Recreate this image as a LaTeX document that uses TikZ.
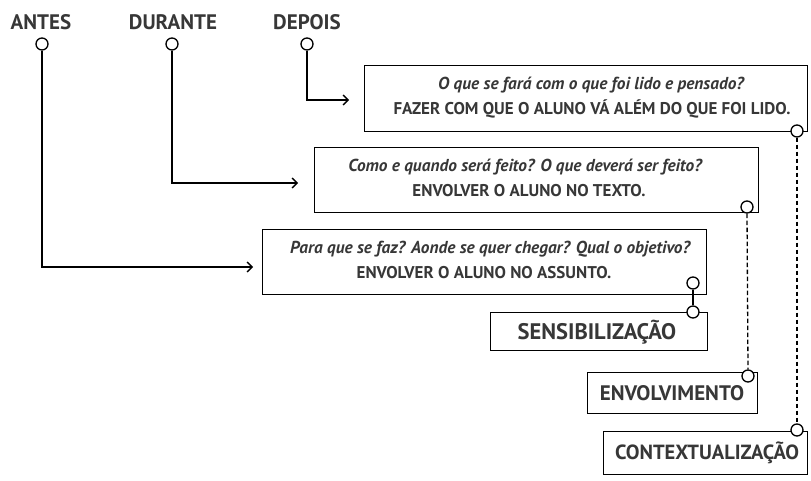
\documentclass[tikz,border=0pt]{standalone}
\usepackage{fontspec}
\setmainfont{PT Sans}
\usetikzlibrary{arrows.meta}
\definecolor{ink}{RGB}{55,55,55}
\begin{document}
\begin{tikzpicture}[x=1pt,y=-1pt,
  box/.style={draw=black, line width=1.3pt, inner sep=0pt, anchor=north west},
  dot/.style={circle, draw=black, line width=1.3pt, fill=white, minimum size=12pt, inner sep=0pt},
  conn/.style={line width=1.3pt, -{Straight Barb[length=5pt,width=10pt,line width=1.3pt]}},
  link/.style={line width=1.3pt},
  dlink/.style={line width=1.3pt, dash pattern=on 4.5pt off 2.5pt},
  head/.style={text=ink, font=\fontsize{21}{24}\selectfont\bfseries},
  txt/.style={text=ink, font=\fontsize{17}{20}\selectfont\bfseries},
  itxt/.style={text=ink, font=\fontsize{17.3}{20}\selectfont\bfseries\itshape},
  lab/.style={text=ink, font=\fontsize{21}{24}\selectfont\bfseries}]
\useasboundingbox (0,0) rectangle (811,481);
% headings
\node[head] (antes) at (41,22) {ANTES};
\node[head] (durante) at (173,22) {DURANTE};
\node[head] (depois) at (307,22) {DEPOIS};
\node[dot] (ca) at (42,44) {};
\node[dot] (cd) at (172,44) {};
\node[dot] (cp) at (307,44) {};
% boxes
\node[box, minimum width=443pt, minimum height=66pt] (b1) at (364,65) {};
\node[box, minimum width=444pt, minimum height=65pt] (b2) at (314,147) {};
\node[box, minimum width=444pt, minimum height=65pt] (b3) at (262,229) {};
\node[box, minimum width=217pt, minimum height=38pt] (s1) at (490,312) {};
\node[box, minimum width=170pt, minimum height=41pt] (s2) at (587,372) {};
\node[box, minimum width=204pt, minimum height=43pt] (s3) at (603,431) {};
% box texts
\node[itxt] (t1a) at (591,85) {O que se fará com o que foi lido e pensado?};
\node[txt] (t1b) at (592,109) {FAZER COM QUE O ALUNO VÁ ALÉM DO QUE FOI LIDO.};
\node[itxt] (t2a) at (525,167) {Como e quando será feito? O que deverá ser feito?};
\node[txt] (t2b) at (529,191) {ENVOLVER O ALUNO NO TEXTO.};
\node[itxt] (t3a) at (490,249) {Para que se faz? Aonde se quer chegar? Qual o objetivo?};
\node[txt] (t3b) at (484,273) {ENVOLVER O ALUNO NO ASSUNTO.};
\node[lab, font=\fontsize{22.5}{24}\selectfont\bfseries] (l1) at (597,332) {SENSIBILIZAÇÃO};
\node[lab] (l2) at (672,393) {ENVOLVIMENTO};
\node[lab, font=\fontsize{20.5}{24}\selectfont\bfseries] (l3) at (707,453) {CONTEXTUALIZAÇÃO};
% arrow end points
\coordinate (ea) at (253,267);
\coordinate (ed) at (298,183);
\coordinate (ep) at (349,100);
\draw[conn] (ca.south) |- (ea);
\draw[conn] (cd.south) |- (ed);
\draw[conn] (cp.south) |- (ep);
% small circles on boxes
\node[dot] (k1) at (797,131) {};
\node[dot] (k2) at (747,207) {};
\node[dot] (k3) at (693,283) {};
\node[dot] (m1) at (693,312) {};
\node[dot] (m2) at (748,376) {};
\node[dot] (m3) at (797,430) {};
\draw[link] (k3.south) -- (m1.north);
\draw[dlink] (k2.south) -- (m2.north);
\draw[dlink] (k1.south) -- (m3.north);
\end{tikzpicture}
\end{document}
